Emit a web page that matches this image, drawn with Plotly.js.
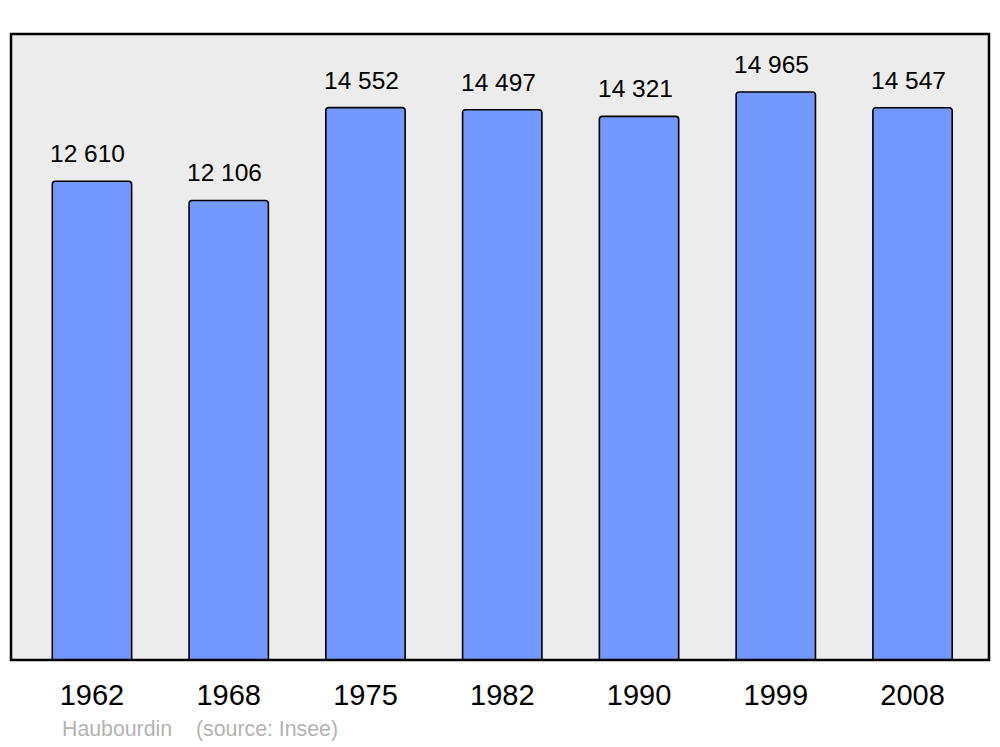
<!DOCTYPE html>
<html>
<head>
<meta charset="utf-8">
<script src="https://cdn.plot.ly/plotly-3.0.1.min.js"></script>
<style>html,body{margin:0;padding:0;background:#fff;}#chart{width:1000px;height:747px;}</style>
</head>
<body>
<div id="chart"></div>
<script>
const years = ["1962", "1968", "1975", "1982", "1990", "1999", "2008"];
const population = [12610, 12106, 14552, 14497, 14321, 14965, 14547];
const townName = "Haubourdin";
const sourceText = "(source: Insee)";

function fmt(v) {
  return String(v).replace(/\B(?=(\d{3})+(?!\d))/g, " ");
}

const valueAnnotations = years.map((y, i) => ({
  x: i, y: population[i], xref: "x", yref: "y",
  text: fmt(population[i]), showarrow: false,
  yanchor: "bottom", xanchor: "center", yshift: 12, xshift: -4,
  font: {family: "Liberation Sans, Arial, sans-serif", size: 24.5, color: "#000"}
}));

const footer = [
  {xref: "paper", yref: "paper", x: (60 - 11) / 978, y: -0.1326, xanchor: "left", yanchor: "bottom",
   text: townName, showarrow: false,
   font: {family: "Liberation Sans, Arial, sans-serif", size: 21.3, color: "#b3b3b3"}},
  {xref: "paper", yref: "paper", x: (194 - 11) / 978, y: -0.1326, xanchor: "left", yanchor: "bottom",
   text: sourceText, showarrow: false,
   font: {family: "Liberation Sans, Arial, sans-serif", size: 21.3, color: "#b3b3b3"}}
];

const data = [{
  type: "bar",
  x: years,
  y: population,
  width: 0.58,
  marker: {color: "#7399ff", line: {color: "#000", width: 1.6}, cornerradius: 3},
  hoverinfo: "none"
}];

const layout = {
  width: 1000, height: 747,
  margin: {l: 11, r: 11, t: 34, b: 87, pad: 0},
  paper_bgcolor: "#ffffff",
  plot_bgcolor: "#ececec",
  showlegend: false,
  font: {family: "Liberation Sans, Arial, sans-serif", color: "#000"},
  xaxis: {
    type: "category", range: [-0.592, 6.559],
    showgrid: false, zeroline: false, showline: false, ticks: "",
    tickfont: {size: 29, color: "#000"}, ticklabelstandoff: 15
  },
  yaxis: {
    range: [0, 16491], showgrid: false, zeroline: false, showline: false,
    showticklabels: false, ticks: ""
  },
  shapes: [{
    type: "rect", xref: "paper", yref: "paper", x0: 0, x1: 1, y0: 0, y1: 1,
    line: {color: "#000", width: 2.5}, fillcolor: "rgba(0,0,0,0)", layer: "above"
  }],
  annotations: valueAnnotations.concat(footer)
};

Plotly.newPlot("chart", data, layout, {displayModeBar: false, staticPlot: true});
</script>
</body>
</html>
